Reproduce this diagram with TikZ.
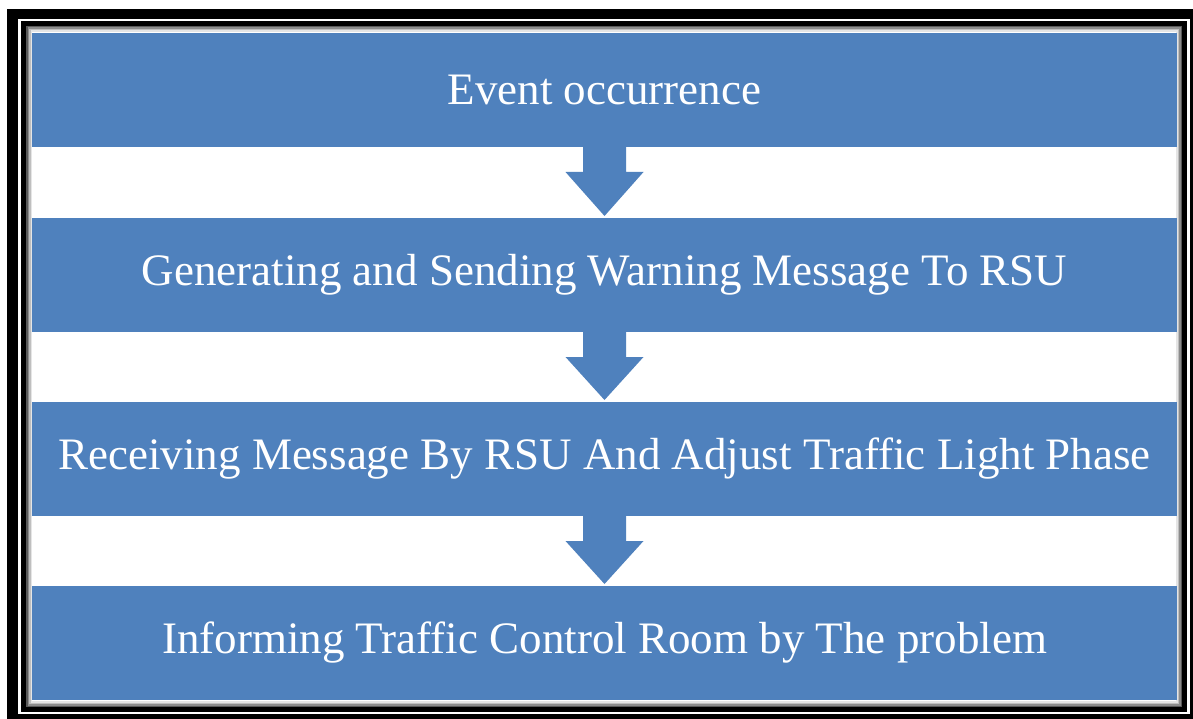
\documentclass[tikz,border=0pt]{standalone}
\usepackage{fontspec}
\setmainfont{Liberation Serif}
\usepackage{tikz}
\usetikzlibrary{positioning, calc}
\definecolor{azulpaso}{HTML}{4F81BD}
\tikzstyle{paso} = [fill=azulpaso, text=white, rectangle, minimum width=1145pt, minimum height=114pt, inner sep=0pt, outer sep=0pt, font=\fontsize{45}{54}\selectfont]
\tikzstyle{flecha} = [fill=azulpaso]
\newcommand{\bajada}[2]{%
	\fill[flecha] ($(#1.south)+(-21.5pt,0)$) -- ++(0,-25pt) -- ++(-17.5pt,0)
		-- ($(#2.north)+(0,2pt)$) -- ($(#1.south)+(39pt,-25pt)$) -- ++(-17.5pt,0)
		-- ($(#1.south)+(21.5pt,0)$) -- cycle;}

\begin{document}
\begin{tikzpicture}[x=1pt, y=1pt]
	\useasboundingbox (0,0) rectangle (1193,-719);
	\fill[white] (0,0) rectangle (1193,-719);
	\fill[black] (7,-9) rectangle (1199,-725);
	\fill[white] (18,-19) rectangle (1190,-714);
	\fill[black] (21,-21) rectangle (1187,-712);
	\fill[white] (26,-26) rectangle (1182,-707);
	\draw[black!65, line width=1.5pt] (26.75,-26.75) rectangle (1181.25,-706.25);
	\draw[black!45, line width=1.5pt] (28.25,-28.25) rectangle (1179.75,-704.75);
	\draw[black!25, line width=1.5pt] (29.75,-29.75) rectangle (1178.25,-703.25);
	\draw[black!10, line width=1.5pt] (31.25,-31.25) rectangle (1176.75,-701.75);
	\node[paso] (evento) at (604.5,-90) {Event occurrence};
	\node[paso, below=71pt of evento] (envio) {Generating and Sending Warning Message\ To RSU};
	\node[paso, below=70pt of envio] (recepcion) {Receiving Message By RSU And Adjust Traffic Light Phase};
	\node[paso, below=70pt of recepcion] (aviso) {Informing Traffic Control Room by The problem};
	\bajada{evento}{envio}
	\bajada{envio}{recepcion}
	\bajada{recepcion}{aviso}
\end{tikzpicture}
\end{document}
